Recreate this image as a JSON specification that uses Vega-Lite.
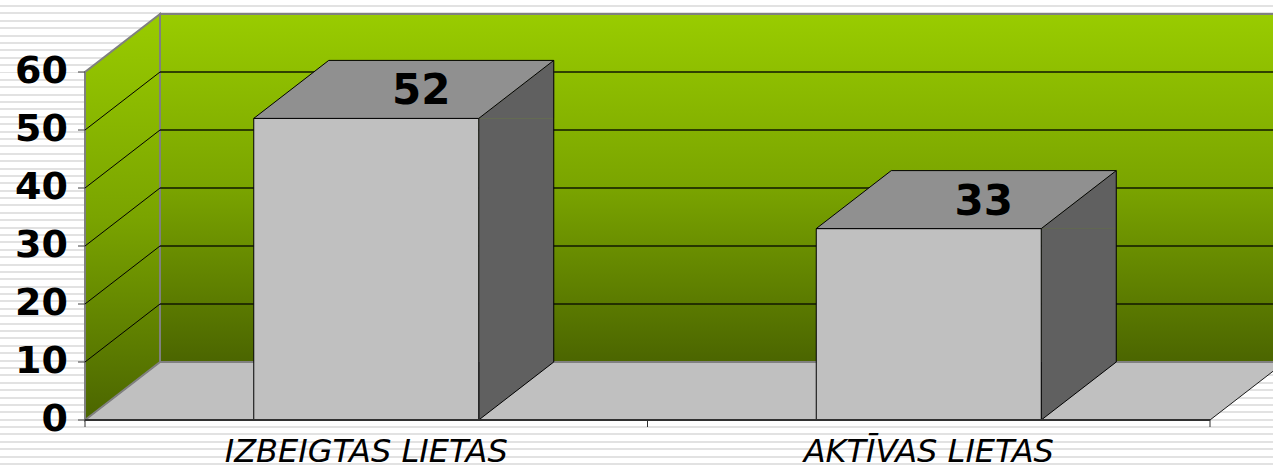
{
  "$schema": "https://vega.github.io/schema/vega-lite/v6.json",
  "width": 1125,
  "height": 348,
  "autosize": {"type": "none"},
  "padding": {"left": 85, "top": 72, "right": 63, "bottom": 45},
  "background": "white",
  "config": {"view": {"stroke": null}},
  "datasets": {
    "bars": [
      {"category": "IZBEIGTAS LIETAS", "value": 52},
      {"category": "AKTĪVAS LIETAS", "value": 33}
    ],
    "ticks": [{"tick": 10}, {"tick": 20}, {"tick": 30}, {"tick": 40}, {"tick": 50}],
    "yticks": [{"tick": 0}, {"tick": 10}, {"tick": 20}, {"tick": 30}, {"tick": 40}, {"tick": 50}, {"tick": 60}]
  },
  "resolve": {"scale": {"x": "independent"}, "axis": {"x": "independent"}},
  "layer": [
    {
      "data": {"values": [{}]},
      "layer": [
        {
          "mark": {
            "type": "rect",
            "xOffset": -85, "x2Offset": 63, "yOffset": -69.694, "y2Offset": 47.69,
            "fill": {"gradient": "linear", "x1": 0, "y1": 0, "x2": 0, "y2": 1, "stops": [
              {"offset":0.0058,"color":"#fff"},{"offset":0.0058,"color":"#e2e2e2"},{"offset":0.0101,"color":"#e2e2e2"},{"offset":0.0101,"color":"#fff"},
              {"offset":0.0217,"color":"#fff"},{"offset":0.0217,"color":"#e2e2e2"},{"offset":0.0259,"color":"#e2e2e2"},{"offset":0.0259,"color":"#fff"},
              {"offset":0.0375,"color":"#fff"},{"offset":0.0375,"color":"#e2e2e2"},{"offset":0.0418,"color":"#e2e2e2"},{"offset":0.0418,"color":"#fff"},
              {"offset":0.0534,"color":"#fff"},{"offset":0.0534,"color":"#e2e2e2"},{"offset":0.0577,"color":"#e2e2e2"},{"offset":0.0577,"color":"#fff"},
              {"offset":0.0693,"color":"#fff"},{"offset":0.0693,"color":"#e2e2e2"},{"offset":0.0736,"color":"#e2e2e2"},{"offset":0.0736,"color":"#fff"},
              {"offset":0.0852,"color":"#fff"},{"offset":0.0852,"color":"#e2e2e2"},{"offset":0.0894,"color":"#e2e2e2"},{"offset":0.0894,"color":"#fff"},
              {"offset":0.1010,"color":"#fff"},{"offset":0.1010,"color":"#e2e2e2"},{"offset":0.1053,"color":"#e2e2e2"},{"offset":0.1053,"color":"#fff"},
              {"offset":0.1169,"color":"#fff"},{"offset":0.1169,"color":"#e2e2e2"},{"offset":0.1212,"color":"#e2e2e2"},{"offset":0.1212,"color":"#fff"},
              {"offset":0.1328,"color":"#fff"},{"offset":0.1328,"color":"#e2e2e2"},{"offset":0.1371,"color":"#e2e2e2"},{"offset":0.1371,"color":"#fff"},
              {"offset":0.1487,"color":"#fff"},{"offset":0.1487,"color":"#e2e2e2"},{"offset":0.1529,"color":"#e2e2e2"},{"offset":0.1529,"color":"#fff"},
              {"offset":0.1645,"color":"#fff"},{"offset":0.1645,"color":"#e2e2e2"},{"offset":0.1688,"color":"#e2e2e2"},{"offset":0.1688,"color":"#fff"},
              {"offset":0.1804,"color":"#fff"},{"offset":0.1804,"color":"#e2e2e2"},{"offset":0.1847,"color":"#e2e2e2"},{"offset":0.1847,"color":"#fff"},
              {"offset":0.1963,"color":"#fff"},{"offset":0.1963,"color":"#e2e2e2"},{"offset":0.2006,"color":"#e2e2e2"},{"offset":0.2006,"color":"#fff"},
              {"offset":0.2121,"color":"#fff"},{"offset":0.2121,"color":"#e2e2e2"},{"offset":0.2164,"color":"#e2e2e2"},{"offset":0.2164,"color":"#fff"},
              {"offset":0.2280,"color":"#fff"},{"offset":0.2280,"color":"#e2e2e2"},{"offset":0.2323,"color":"#e2e2e2"},{"offset":0.2323,"color":"#fff"},
              {"offset":0.2439,"color":"#fff"},{"offset":0.2439,"color":"#e2e2e2"},{"offset":0.2482,"color":"#e2e2e2"},{"offset":0.2482,"color":"#fff"},
              {"offset":0.2598,"color":"#fff"},{"offset":0.2598,"color":"#e2e2e2"},{"offset":0.2641,"color":"#e2e2e2"},{"offset":0.2641,"color":"#fff"},
              {"offset":0.2756,"color":"#fff"},{"offset":0.2756,"color":"#e2e2e2"},{"offset":0.2799,"color":"#e2e2e2"},{"offset":0.2799,"color":"#fff"},
              {"offset":0.2915,"color":"#fff"},{"offset":0.2915,"color":"#e2e2e2"},{"offset":0.2958,"color":"#e2e2e2"},{"offset":0.2958,"color":"#fff"},
              {"offset":0.3074,"color":"#fff"},{"offset":0.3074,"color":"#e2e2e2"},{"offset":0.3117,"color":"#e2e2e2"},{"offset":0.3117,"color":"#fff"},
              {"offset":0.3233,"color":"#fff"},{"offset":0.3233,"color":"#e2e2e2"},{"offset":0.3276,"color":"#e2e2e2"},{"offset":0.3276,"color":"#fff"},
              {"offset":0.3391,"color":"#fff"},{"offset":0.3391,"color":"#e2e2e2"},{"offset":0.3434,"color":"#e2e2e2"},{"offset":0.3434,"color":"#fff"},
              {"offset":0.3550,"color":"#fff"},{"offset":0.3550,"color":"#e2e2e2"},{"offset":0.3593,"color":"#e2e2e2"},{"offset":0.3593,"color":"#fff"},
              {"offset":0.3709,"color":"#fff"},{"offset":0.3709,"color":"#e2e2e2"},{"offset":0.3752,"color":"#e2e2e2"},{"offset":0.3752,"color":"#fff"},
              {"offset":0.3868,"color":"#fff"},{"offset":0.3868,"color":"#e2e2e2"},{"offset":0.3911,"color":"#e2e2e2"},{"offset":0.3911,"color":"#fff"},
              {"offset":0.4026,"color":"#fff"},{"offset":0.4026,"color":"#e2e2e2"},{"offset":0.4069,"color":"#e2e2e2"},{"offset":0.4069,"color":"#fff"},
              {"offset":0.4185,"color":"#fff"},{"offset":0.4185,"color":"#e2e2e2"},{"offset":0.4228,"color":"#e2e2e2"},{"offset":0.4228,"color":"#fff"},
              {"offset":0.4344,"color":"#fff"},{"offset":0.4344,"color":"#e2e2e2"},{"offset":0.4387,"color":"#e2e2e2"},{"offset":0.4387,"color":"#fff"},
              {"offset":0.4502,"color":"#fff"},{"offset":0.4502,"color":"#e2e2e2"},{"offset":0.4545,"color":"#e2e2e2"},{"offset":0.4545,"color":"#fff"},
              {"offset":0.4661,"color":"#fff"},{"offset":0.4661,"color":"#e2e2e2"},{"offset":0.4704,"color":"#e2e2e2"},{"offset":0.4704,"color":"#fff"},
              {"offset":0.4820,"color":"#fff"},{"offset":0.4820,"color":"#e2e2e2"},{"offset":0.4863,"color":"#e2e2e2"},{"offset":0.4863,"color":"#fff"},
              {"offset":0.4979,"color":"#fff"},{"offset":0.4979,"color":"#e2e2e2"},{"offset":0.5022,"color":"#e2e2e2"},{"offset":0.5022,"color":"#fff"},
              {"offset":0.5137,"color":"#fff"},{"offset":0.5137,"color":"#e2e2e2"},{"offset":0.5180,"color":"#e2e2e2"},{"offset":0.5180,"color":"#fff"},
              {"offset":0.5296,"color":"#fff"},{"offset":0.5296,"color":"#e2e2e2"},{"offset":0.5339,"color":"#e2e2e2"},{"offset":0.5339,"color":"#fff"},
              {"offset":0.5455,"color":"#fff"},{"offset":0.5455,"color":"#e2e2e2"},{"offset":0.5498,"color":"#e2e2e2"},{"offset":0.5498,"color":"#fff"},
              {"offset":0.5614,"color":"#fff"},{"offset":0.5614,"color":"#e2e2e2"},{"offset":0.5657,"color":"#e2e2e2"},{"offset":0.5657,"color":"#fff"},
              {"offset":0.5772,"color":"#fff"},{"offset":0.5772,"color":"#e2e2e2"},{"offset":0.5815,"color":"#e2e2e2"},{"offset":0.5815,"color":"#fff"},
              {"offset":0.5931,"color":"#fff"},{"offset":0.5931,"color":"#e2e2e2"},{"offset":0.5974,"color":"#e2e2e2"},{"offset":0.5974,"color":"#fff"},
              {"offset":0.6090,"color":"#fff"},{"offset":0.6090,"color":"#e2e2e2"},{"offset":0.6133,"color":"#e2e2e2"},{"offset":0.6133,"color":"#fff"},
              {"offset":0.6248,"color":"#fff"},{"offset":0.6248,"color":"#e2e2e2"},{"offset":0.6291,"color":"#e2e2e2"},{"offset":0.6291,"color":"#fff"},
              {"offset":0.6407,"color":"#fff"},{"offset":0.6407,"color":"#e2e2e2"},{"offset":0.6450,"color":"#e2e2e2"},{"offset":0.6450,"color":"#fff"},
              {"offset":0.6566,"color":"#fff"},{"offset":0.6566,"color":"#e2e2e2"},{"offset":0.6609,"color":"#e2e2e2"},{"offset":0.6609,"color":"#fff"},
              {"offset":0.6725,"color":"#fff"},{"offset":0.6725,"color":"#e2e2e2"},{"offset":0.6768,"color":"#e2e2e2"},{"offset":0.6768,"color":"#fff"},
              {"offset":0.6883,"color":"#fff"},{"offset":0.6883,"color":"#e2e2e2"},{"offset":0.6926,"color":"#e2e2e2"},{"offset":0.6926,"color":"#fff"},
              {"offset":0.7042,"color":"#fff"},{"offset":0.7042,"color":"#e2e2e2"},{"offset":0.7085,"color":"#e2e2e2"},{"offset":0.7085,"color":"#fff"},
              {"offset":0.7201,"color":"#fff"},{"offset":0.7201,"color":"#e2e2e2"},{"offset":0.7244,"color":"#e2e2e2"},{"offset":0.7244,"color":"#fff"},
              {"offset":0.7360,"color":"#fff"},{"offset":0.7360,"color":"#e2e2e2"},{"offset":0.7403,"color":"#e2e2e2"},{"offset":0.7403,"color":"#fff"},
              {"offset":0.7518,"color":"#fff"},{"offset":0.7518,"color":"#e2e2e2"},{"offset":0.7561,"color":"#e2e2e2"},{"offset":0.7561,"color":"#fff"},
              {"offset":0.7677,"color":"#fff"},{"offset":0.7677,"color":"#e2e2e2"},{"offset":0.7720,"color":"#e2e2e2"},{"offset":0.7720,"color":"#fff"},
              {"offset":0.7836,"color":"#fff"},{"offset":0.7836,"color":"#e2e2e2"},{"offset":0.7879,"color":"#e2e2e2"},{"offset":0.7879,"color":"#fff"},
              {"offset":0.7995,"color":"#fff"},{"offset":0.7995,"color":"#e2e2e2"},{"offset":0.8038,"color":"#e2e2e2"},{"offset":0.8038,"color":"#fff"},
              {"offset":0.8153,"color":"#fff"},{"offset":0.8153,"color":"#e2e2e2"},{"offset":0.8196,"color":"#e2e2e2"},{"offset":0.8196,"color":"#fff"},
              {"offset":0.8312,"color":"#fff"},{"offset":0.8312,"color":"#e2e2e2"},{"offset":0.8355,"color":"#e2e2e2"},{"offset":0.8355,"color":"#fff"},
              {"offset":0.8471,"color":"#fff"},{"offset":0.8471,"color":"#e2e2e2"},{"offset":0.8514,"color":"#e2e2e2"},{"offset":0.8514,"color":"#fff"},
              {"offset":0.8629,"color":"#fff"},{"offset":0.8629,"color":"#e2e2e2"},{"offset":0.8672,"color":"#e2e2e2"},{"offset":0.8672,"color":"#fff"},
              {"offset":0.8788,"color":"#fff"},{"offset":0.8788,"color":"#e2e2e2"},{"offset":0.8831,"color":"#e2e2e2"},{"offset":0.8831,"color":"#fff"},
              {"offset":0.8947,"color":"#fff"},{"offset":0.8947,"color":"#e2e2e2"},{"offset":0.8990,"color":"#e2e2e2"},{"offset":0.8990,"color":"#fff"},
              {"offset":0.9106,"color":"#fff"},{"offset":0.9106,"color":"#e2e2e2"},{"offset":0.9149,"color":"#e2e2e2"},{"offset":0.9149,"color":"#fff"},
              {"offset":0.9264,"color":"#fff"},{"offset":0.9264,"color":"#e2e2e2"},{"offset":0.9307,"color":"#e2e2e2"},{"offset":0.9307,"color":"#fff"},
              {"offset":0.9423,"color":"#fff"},{"offset":0.9423,"color":"#e2e2e2"},{"offset":0.9466,"color":"#e2e2e2"},{"offset":0.9466,"color":"#fff"},
              {"offset":0.9582,"color":"#fff"},{"offset":0.9582,"color":"#e2e2e2"},{"offset":0.9625,"color":"#e2e2e2"},{"offset":0.9625,"color":"#fff"},
              {"offset":0.9741,"color":"#fff"},{"offset":0.9741,"color":"#e2e2e2"},{"offset":0.9784,"color":"#e2e2e2"},{"offset":0.9784,"color":"#fff"},
              {"offset":0.9899,"color":"#fff"},{"offset":0.9899,"color":"#e2e2e2"},{"offset":0.9942,"color":"#e2e2e2"},{"offset":0.9942,"color":"#fff"}
            ]}
          },
          "encoding": {
            "x": {"datum": 0, "type": "quantitative", "scale": {"domain": [0, 2], "nice": false, "zero": false}, "axis": null},
            "x2": {"datum": 2},
            "y": {"datum": 60, "type": "quantitative", "scale": {"domain": [0, 60], "nice": false}, "axis": null},
            "y2": {"datum": 0}
          }
        },
        {
          "mark": {"type": "point", "shape": "M0,0L1125,0L1200,-58L75,-58Z", "size": 4, "filled": true, "fill": "#c0c0c0", "stroke": "#1a1a1a", "strokeWidth": 1, "opacity": 1},
          "encoding": {
            "x": {"datum": 0, "type": "quantitative", "axis": null},
            "y": {"datum": 0, "type": "quantitative", "axis": null}
          }
        },
        {
          "mark": {
            "type": "rect", "xOffset": 75, "x2Offset": 90, "yOffset": -58, "y2Offset": -58,
            "stroke": "#808080", "strokeWidth": 2,
            "fill": {"gradient": "linear", "x1": 0, "y1": 0, "x2": 0, "y2": 1, "stops": [
              {"offset": 0, "color": "#99cc00"}, {"offset": 0.5, "color": "#7aa400"}, {"offset": 1, "color": "#4b6500"}
            ]}
          },
          "encoding": {
            "x": {"datum": 0, "type": "quantitative", "axis": null},
            "x2": {"datum": 2},
            "y": {"datum": 0, "type": "quantitative", "axis": null},
            "y2": {"datum": 60}
          }
        },
        {
          "mark": {
            "type": "point", "shape": "M0,0L75,-58L75,-406L0,-348Z", "size": 4, "filled": true, "opacity": 1,
            "stroke": "#808080", "strokeWidth": 2,
            "fill": {"gradient": "linear", "x1": 0, "y1": 0, "x2": 0, "y2": 1, "stops": [
              {"offset": 0, "color": "#99cc00"}, {"offset": 0.5, "color": "#7aa400"}, {"offset": 1, "color": "#4b6500"}
            ]}
          },
          "encoding": {
            "x": {"datum": 0, "type": "quantitative", "axis": null},
            "y": {"datum": 0, "type": "quantitative", "axis": null}
          }
        },
        {
          "data": {"name": "ticks"},
          "mark": {"type": "rule", "xOffset": 75, "x2Offset": 90, "yOffset": -58, "color": "#111800", "strokeWidth": 1.5},
          "encoding": {
            "x": {"datum": 0, "type": "quantitative", "axis": null},
            "x2": {"datum": 2},
            "y": {"field": "tick", "type": "quantitative", "axis": null}
          }
        },
        {
          "data": {"name": "ticks"},
          "mark": {"type": "rule", "x2Offset": 75, "y2Offset": -58, "color": "#000000", "strokeWidth": 1},
          "encoding": {
            "x": {"datum": 0, "type": "quantitative", "axis": null},
            "x2": {"datum": 0},
            "y": {"field": "tick", "type": "quantitative", "axis": null},
            "y2": {"field": "tick"}
          }
        },
        {
          "data": {"name": "yticks"},
          "mark": {"type": "rule", "xOffset": -7, "color": "#404040", "strokeWidth": 1},
          "encoding": {
            "x": {"datum": 0, "type": "quantitative", "axis": null},
            "x2": {"datum": 0},
            "y": {"field": "tick", "type": "quantitative", "axis": null}
          }
        },
        {
          "data": {"name": "yticks"},
          "mark": {"type": "text", "dx": -17, "align": "right", "baseline": "middle", "font": "DejaVu Sans", "fontWeight": "bold", "fontSize": 38, "color": "#000000"},
          "encoding": {
            "x": {"datum": 0, "type": "quantitative", "axis": null},
            "y": {"field": "tick", "type": "quantitative", "axis": null},
            "text": {"field": "tick", "type": "quantitative"}
          }
        }
      ]
    },
    {
      "data": {"name": "bars"},
      "encoding": {
        "x": {
          "field": "category", "type": "nominal", "sort": null,
          "scale": {"type": "band", "paddingInner": 0.6, "paddingOuter": 0.3},
          "axis": {"orient": "bottom", "title": null, "ticks": false, "domain": false, "labelAngle": 0, "labelFont": "DejaVu Sans", "labelFontStyle": "italic", "labelFontSize": 32, "labelColor": "#000000", "labelPadding": 16, "labelLimit": 0, "zindex": 2}
        }
      },
      "layer": [
        {
          "mark": {"type": "bar", "width": 75, "xOffset": 150, "y2Offset": -58, "fill": "#606060", "strokeWidth": 0},
          "encoding": {
            "y": {"field": "value", "type": "quantitative", "axis": null},
            "y2": {"datum": 0}
          }
        },
        {
          "mark": {"type": "point", "shape": "M112.5,0L187.5,-58L187.5,0Z", "size": 4, "filled": true, "opacity": 1, "fill": "#606060", "stroke": "#606060", "strokeWidth": 0.5},
          "encoding": {"y": {"field": "value", "type": "quantitative", "axis": null}}
        },
        {
          "mark": {"type": "point", "shape": "M187.5,-58L112.5,0L112.5,-58", "size": 4, "filled": true, "opacity": 1, "fill": "#606060", "stroke": "#000000", "strokeWidth": 1},
          "encoding": {"y": {"datum": 0, "type": "quantitative", "axis": null}}
        },
        {
          "mark": {"type": "rule", "xOffset": 187.5, "yOffset": -58, "y2Offset": -58, "color": "#000000", "strokeWidth": 1},
          "encoding": {
            "y": {"field": "value", "type": "quantitative", "axis": null},
            "y2": {"datum": 0}
          }
        },
        {
          "mark": {"type": "bar", "fill": "#c0c0c0", "stroke": "#000000", "strokeWidth": 1},
          "encoding": {
            "y": {"field": "value", "type": "quantitative", "axis": null},
            "y2": {"datum": 0}
          }
        },
        {
          "mark": {"type": "point", "shape": "M-112.5,0L112.5,0L187.5,-58L-37.5,-58Z", "size": 4, "filled": true, "opacity": 1, "fill": "#909090", "stroke": "#000000", "strokeWidth": 1},
          "encoding": {"y": {"field": "value", "type": "quantitative", "axis": null}}
        },
        {
          "mark": {"type": "text", "dx": 55, "dy": -14, "baseline": "alphabetic", "align": "center", "font": "DejaVu Sans", "fontWeight": "bold", "fontSize": 42, "color": "#000000"},
          "encoding": {
            "y": {"field": "value", "type": "quantitative", "axis": null},
            "text": {"field": "value", "type": "quantitative"}
          }
        }
      ]
    },
    {
      "data": {"values": [{}]},
      "layer": [
        {
          "mark": {"type": "rule", "color": "#303030", "strokeWidth": 2},
          "encoding": {
            "x": {"datum": 0, "type": "quantitative", "scale": {"domain": [0, 2], "nice": false, "zero": false}, "axis": null},
            "x2": {"datum": 2},
            "y": {"datum": 0, "type": "quantitative", "axis": null}
          }
        },
        {
          "mark": {"type": "rule", "color": "#303030", "strokeWidth": 1, "y2Offset": 7},
          "encoding": {
            "x": {"datum": 0, "type": "quantitative", "axis": null},
            "y": {"datum": 0, "type": "quantitative", "axis": null},
            "y2": {"datum": 0}
          }
        },
        {
          "mark": {"type": "rule", "color": "#303030", "strokeWidth": 1, "y2Offset": 7},
          "encoding": {
            "x": {"datum": 1, "type": "quantitative", "axis": null},
            "y": {"datum": 0, "type": "quantitative", "axis": null},
            "y2": {"datum": 0}
          }
        },
        {
          "mark": {"type": "rule", "color": "#303030", "strokeWidth": 1, "y2Offset": 7},
          "encoding": {
            "x": {"datum": 2, "type": "quantitative", "axis": null},
            "y": {"datum": 0, "type": "quantitative", "axis": null},
            "y2": {"datum": 0}
          }
        }
      ]
    }
  ]
}
